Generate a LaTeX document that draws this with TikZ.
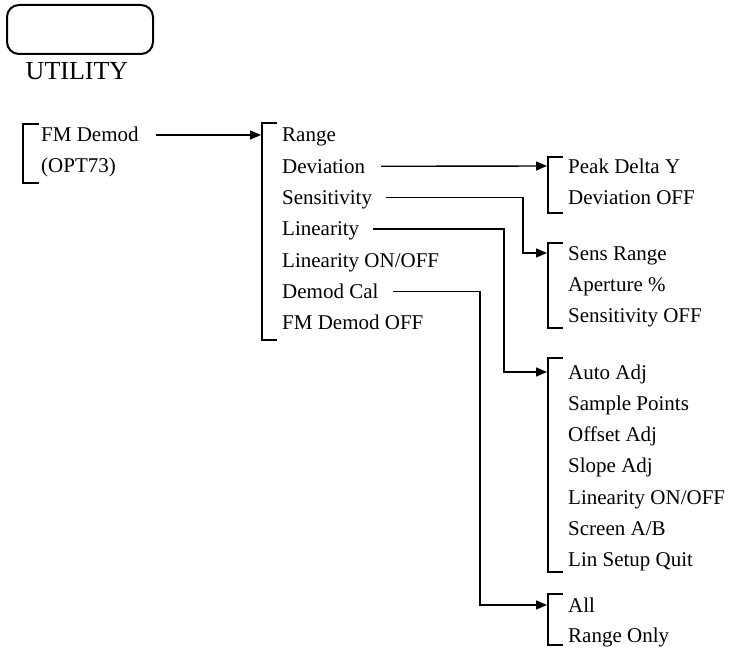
\documentclass[tikz,border=0pt]{standalone}
\usepackage{fontspec}
\setmainfont{Liberation Serif}
\usetikzlibrary{arrows.meta}
\begin{document}
\begin{tikzpicture}[x=1pt,y=-1pt,
  item/.style={anchor=base west,inner sep=0pt,font=\fontsize{21}{25}\selectfont},
  brk/.style={line width=1.2pt},
  conn/.style={line width=1.4pt},
  arr/.style={conn,-{Triangle[length=11pt,width=9pt]}}]
\useasboundingbox (0,0) rectangle (730,652);
% key
\draw[line width=2pt,rounded corners=12pt] (7,5) rectangle (153,54);
\node[anchor=base,inner sep=0pt,font=\fontsize{26}{30}\selectfont] (util) at (77,80) {UTILITY};
% column 1
\draw[brk] (39,124) -- (23,124) -- (23,183) -- (39,183);
\node[item] (fm) at (41,142) {FM Demod};
\node[item] (opt) at (41,173) {(OPT73)};
% column 2
\draw[brk] (277,123) -- (262,123) -- (262,340) -- (277,340);
\coordinate (b2) at (261,135);
\node[item] (range) at (282,142) {Range};
\node[item] (dev) at (282,173.3) {Deviation};
\node[item] (sens) at (282,204.6) {Sensitivity};
\node[item] (lin) at (282,235.9) {Linearity};
\node[item] (linon) at (282,267.2) {Linearity ON/OFF};
\node[item] (dcal) at (282,298.5) {Demod Cal};
\node[item] (fmoff) at (282,329.8) {FM Demod OFF};
% group A
\draw[brk] (563,157) -- (548,157) -- (548,213) -- (563,213);
\coordinate (bA) at (547,166);
\node[item] (peak) at (568,174) {Peak Delta Y};
\node[item] (devoff) at (568,205) {Deviation OFF};
% group B
\draw[brk] (563,243) -- (548,243) -- (548,328) -- (563,328);
\coordinate (bB) at (547,253);
\node[item] (srange) at (568,260) {Sens Range};
\node[item] (aper) at (568,291.3) {Aperture \%};
\node[item] (soff) at (568,322.6) {Sensitivity OFF};
% group C
\draw[brk] (563,358) -- (548,358) -- (548,572) -- (563,572);
\coordinate (bC) at (547,372);
\node[item] (auto) at (568,379) {Auto Adj};
\node[item] (samp) at (568,410.3) {Sample Points};
\node[item] (offs) at (568,441.6) {Offset Adj};
\node[item] (slope) at (568,472.9) {Slope Adj};
\node[item] (lin2) at (568,504.2) {Linearity ON/OFF};
\node[item] (scr) at (568,535.5) {Screen A/B};
\node[item] (quit) at (568,566.8) {Lin Setup Quit};
% group D
\draw[brk] (563,594) -- (548,594) -- (548,645) -- (563,645);
\coordinate (bD) at (547,605);
\node[item] (all) at (568,612) {All};
\node[item] (ronly) at (568,642) {Range Only};
% connectors
\draw[arr] ([shift={(17pt,7pt)}]fm.base east) -- (b2);
\draw[arr] ([shift={(16pt,7pt)}]dev.base east) -- (bA);
\draw[arr] ([shift={(14pt,7pt)}]sens.base east) -| ([xshift=-24pt]bB) -- (bB);
\draw[arr] ([shift={(14pt,7pt)}]lin.base east) -| ([xshift=-43pt]bC) -- (bC);
\draw[arr] ([shift={(14pt,7pt)}]dcal.base east) -| ([xshift=-67pt]bD) -- (bD);
\end{tikzpicture}
\end{document}
